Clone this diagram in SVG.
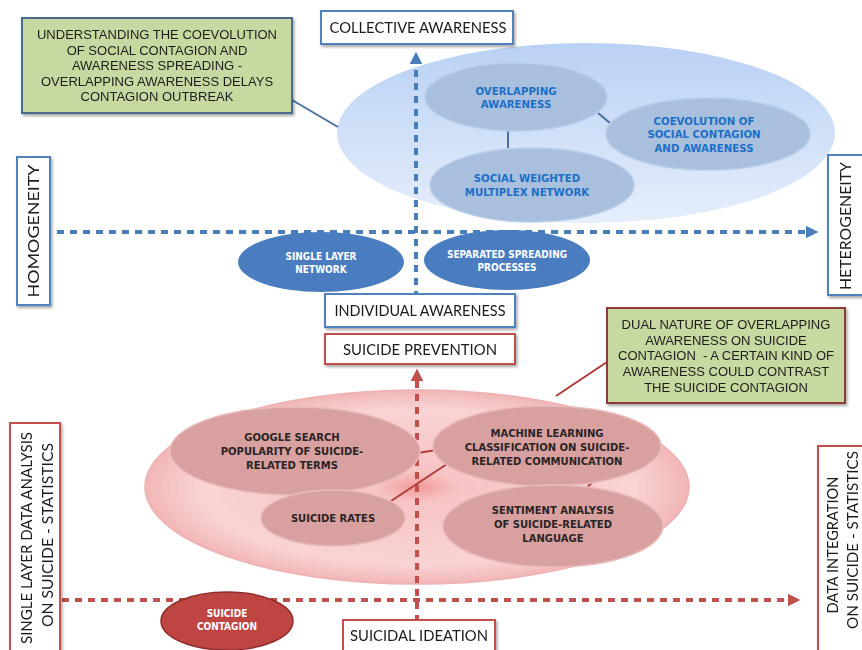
<svg xmlns="http://www.w3.org/2000/svg" width="862" height="650" viewBox="0 0 862 650">
<style>
.callout{font-family:"Liberation Sans",Arial,sans-serif;font-size:13px;fill:#1e1e1e;text-anchor:middle}
.axis{font-family:Lato,"Open Sans",sans-serif;font-size:15px;fill:#1a1a1a;text-anchor:middle}
.btxt{font-family:"DejaVu Sans",Verdana,sans-serif;font-weight:bold;font-size:10.2px;fill:#1c6fc6;text-anchor:middle}
.ptxt{font-family:"DejaVu Sans",Verdana,sans-serif;font-weight:bold;font-size:10px;fill:#2a2424;text-anchor:middle}
.wtxt{font-family:"DejaVu Sans Condensed","DejaVu Sans",sans-serif;font-weight:bold;font-size:10px;fill:#fff;text-anchor:middle}
.bbox{fill:#fff;stroke:#4f81bd;stroke-width:2}
.rbox{fill:#fff;stroke:#c0504d;stroke-width:2}
.bin{fill:#a8c0de;stroke:#b8cde8;stroke-width:1.5}
.pin{fill:#d9a0a0;stroke:#e9baba;stroke-width:1.5}
.bdash{stroke:#4a7ebb;stroke-width:4;stroke-dasharray:7 6;fill:none}
.rdash{stroke:#c0504d;stroke-width:4;stroke-dasharray:7 6;fill:none}
.blink{stroke:#4a6fa0;stroke-width:2;fill:none}
.rlink{stroke:#b03c3c;stroke-width:2;fill:none}
</style>
<defs>
<filter id="sh" x="-10%" y="-10%" width="130%" height="130%">
<feDropShadow dx="1.5" dy="2" stdDeviation="1.5" flood-color="#000" flood-opacity="0.35"/>
</filter>
<linearGradient id="gblue" x1="0" y1="0" x2="0" y2="1">
<stop offset="0" stop-color="#b9d1f4"/>
<stop offset="1" stop-color="#e6eefb"/>
</linearGradient>
<radialGradient id="gpink" cx="0.5" cy="0.5" r="0.5">
<stop offset="0" stop-color="#f29999"/>
<stop offset="0.15" stop-color="#f7c4c4"/>
<stop offset="0.8" stop-color="#f9d3d3"/>
<stop offset="1" stop-color="#f2b6b6"/>
</radialGradient>
<marker id="ab" viewBox="0 0 10 10" refX="5" refY="5" markerWidth="3.2" markerHeight="3.2" orient="auto">
<path d="M0,0 L10,5 L0,10 z" fill="#4a7ebb"/>
</marker>
<marker id="ar" viewBox="0 0 10 10" refX="5" refY="5" markerWidth="3.2" markerHeight="3.2" orient="auto">
<path d="M0,0 L10,5 L0,10 z" fill="#c0504d"/>
</marker>
</defs>
<rect width="862" height="650" fill="#fff"/>

<g id="collective-region">
<ellipse cx="586" cy="133" rx="249" ry="90" fill="url(#gblue)"/>
</g>
<g id="suicide-region">
<ellipse cx="417" cy="487" rx="272" ry="97" fill="url(#gpink)" stroke="#eeb0b0" stroke-width="1.5"/>
</g>

<g id="connectors">
<line class="bdash" x1="57" y1="232" x2="812" y2="232" marker-end="url(#ab)"/>
<line class="bdash" x1="416" y1="298" x2="416" y2="58" marker-end="url(#ab)"/>
<line class="rdash" x1="62" y1="600" x2="794" y2="600" marker-end="url(#ar)"/>
<line class="rdash" x1="417" y1="622" x2="417" y2="375" marker-end="url(#ar)"/>
<line class="blink" x1="292" y1="100" x2="338" y2="127"/>
<line class="blink" x1="508" y1="130" x2="508" y2="148"/>
<line class="blink" x1="598" y1="113" x2="610" y2="123"/>
<line class="rlink" x1="607" y1="362" x2="556" y2="396"/>
<line class="rlink" x1="412" y1="454" x2="448" y2="448"/>
<line class="rlink" x1="385" y1="505" x2="450" y2="462"/>
<line class="rlink" x1="596" y1="478" x2="584" y2="491"/>
</g>

<g id="callout-top" filter="url(#sh)">
<rect x="22" y="18" width="270" height="95" fill="#c5d9a0" stroke="#4a6b8c" stroke-width="2"/>
<text class="callout" x="157" y="39">UNDERSTANDING THE COEVOLUTION</text>
<text class="callout" x="157" y="54.5">OF SOCIAL CONTAGION AND</text>
<text class="callout" x="157" y="70">AWARENESS SPREADING -</text>
<text class="callout" x="157" y="85.5">OVERLAPPING AWARENESS DELAYS</text>
<text class="callout" x="157" y="101">CONTAGION OUTBREAK</text>
</g>

<g id="collective-awareness" filter="url(#sh)">
<rect class="bbox" x="321" y="11" width="192" height="33"/>
<text class="axis" x="418" y="33" textLength="177" lengthAdjust="spacingAndGlyphs">COLLECTIVE AWARENESS</text>
</g>

<g id="overlapping-awareness">
<ellipse class="bin" cx="516" cy="97" rx="91" ry="34"/>
<text class="btxt" x="516" y="94.5">OVERLAPPING</text>
<text class="btxt" x="516" y="108">AWARENESS</text>
</g>
<g id="coevolution">
<ellipse class="bin" cx="708" cy="134" rx="102" ry="36"/>
<text class="btxt" x="704" y="124.5">COEVOLUTION OF</text>
<text class="btxt" x="704" y="138">SOCIAL CONTAGION</text>
<text class="btxt" x="704" y="151.5">AND AWARENESS</text>
</g>
<g id="social-weighted">
<ellipse class="bin" cx="532" cy="185" rx="102" ry="37"/>
<text class="btxt" x="527" y="182">SOCIAL WEIGHTED</text>
<text class="btxt" x="527" y="195.5">MULTIPLEX NETWORK</text>
</g>

<g id="homogeneity" filter="url(#sh)">
<rect class="bbox" x="17" y="157" width="33" height="148"/>
<text class="axis" transform="translate(39,231) rotate(-90)" x="0" y="0" textLength="133" lengthAdjust="spacingAndGlyphs">HOMOGENEITY</text>
</g>
<g id="heterogeneity" filter="url(#sh)">
<rect class="bbox" x="828" y="155" width="36" height="140"/>
<text class="axis" transform="translate(851,226) rotate(-90)" x="0" y="0" textLength="128" lengthAdjust="spacingAndGlyphs">HETEROGENEITY</text>
</g>

<g id="single-layer-network">
<ellipse cx="321" cy="262" rx="83" ry="30" fill="#4a7dbf"/>
<text class="wtxt" x="321" y="260">SINGLE LAYER</text>
<text class="wtxt" x="321" y="273">NETWORK</text>
</g>
<g id="separated-spreading">
<ellipse cx="507" cy="260" rx="83" ry="30" fill="#4a7dbf"/>
<text class="wtxt" x="507" y="258">SEPARATED SPREADING</text>
<text class="wtxt" x="507" y="271">PROCESSES</text>
</g>

<g id="individual-awareness" filter="url(#sh)">
<rect class="bbox" x="325" y="294" width="190" height="33"/>
<text class="axis" x="420" y="316" textLength="171" lengthAdjust="spacingAndGlyphs">INDIVIDUAL AWARENESS</text>
</g>
<g id="suicide-prevention" filter="url(#sh)">
<rect class="rbox" x="325" y="334" width="190" height="30"/>
<text class="axis" x="420" y="355" textLength="154" lengthAdjust="spacingAndGlyphs">SUICIDE PREVENTION</text>
</g>

<g id="callout-bottom" filter="url(#sh)">
<rect x="607" y="308" width="238" height="95" fill="#c5d9a0" stroke="#8e3b3b" stroke-width="2"/>
<text class="callout" x="726" y="328.5">DUAL NATURE OF OVERLAPPING</text>
<text class="callout" x="726" y="344.5">AWARENESS ON SUICIDE</text>
<text class="callout" x="726" y="360" xml:space="preserve">CONTAGION  - A CERTAIN KIND OF</text>
<text class="callout" x="726" y="375.5">AWARENESS COULD CONTRAST</text>
<text class="callout" x="726" y="391.5">THE SUICIDE CONTAGION</text>
</g>

<g id="google-search">
<ellipse class="pin" cx="295" cy="451" rx="125" ry="44"/>
<text class="ptxt" x="292" y="441">GOOGLE SEARCH</text>
<text class="ptxt" x="292" y="455">POPULARITY OF SUICIDE-</text>
<text class="ptxt" x="292" y="469">RELATED TERMS</text>
</g>
<g id="machine-learning">
<ellipse class="pin" cx="547" cy="446" rx="114" ry="40"/>
<text class="ptxt" x="547" y="437">MACHINE LEARNING</text>
<text class="ptxt" x="547" y="451">CLASSIFICATION ON SUICIDE-</text>
<text class="ptxt" x="547" y="465">RELATED COMMUNICATION</text>
</g>
<g id="suicide-rates">
<ellipse class="pin" cx="333" cy="518" rx="72" ry="28"/>
<text class="ptxt" x="333" y="522">SUICIDE RATES</text>
</g>
<g id="sentiment-analysis">
<ellipse class="pin" cx="553" cy="526" rx="110" ry="41"/>
<text class="ptxt" x="553" y="514">SENTIMENT ANALYSIS</text>
<text class="ptxt" x="553" y="528">OF SUICIDE-RELATED</text>
<text class="ptxt" x="553" y="542">LANGUAGE</text>
</g>

<g id="single-layer-analysis" filter="url(#sh)">
<rect class="rbox" x="10" y="423" width="50" height="235"/>
<text class="axis" transform="translate(32,538) rotate(-90)" x="0" y="0" textLength="212" lengthAdjust="spacingAndGlyphs">SINGLE LAYER DATA ANALYSIS</text>
<text class="axis" transform="translate(53,535) rotate(-90)" x="0" y="0" textLength="184" lengthAdjust="spacingAndGlyphs">ON SUICIDE  -  STATISTICS</text>
</g>
<g id="data-integration" filter="url(#sh)">
<rect class="rbox" x="818" y="446" width="50" height="212"/>
<text class="axis" transform="translate(838,545) rotate(-90)" x="0" y="0" textLength="137" lengthAdjust="spacingAndGlyphs">DATA INTEGRATION</text>
<text class="axis" transform="translate(858,540) rotate(-90)" x="0" y="0" textLength="178" lengthAdjust="spacingAndGlyphs">ON SUICIDE  -  STATISTICS</text>
</g>

<g id="suicide-contagion">
<ellipse cx="227" cy="621" rx="66" ry="29" fill="#bf4543" stroke="#8f2e2e" stroke-width="1.5"/>
<text class="wtxt" x="227" y="617">SUICIDE</text>
<text class="wtxt" x="227" y="630">CONTAGION</text>
</g>
<g id="suicidal-ideation" filter="url(#sh)">
<rect class="rbox" x="343" y="620" width="152" height="34"/>
<text class="axis" x="419" y="641" textLength="138" lengthAdjust="spacingAndGlyphs">SUICIDAL IDEATION</text>
</g>
</svg>
